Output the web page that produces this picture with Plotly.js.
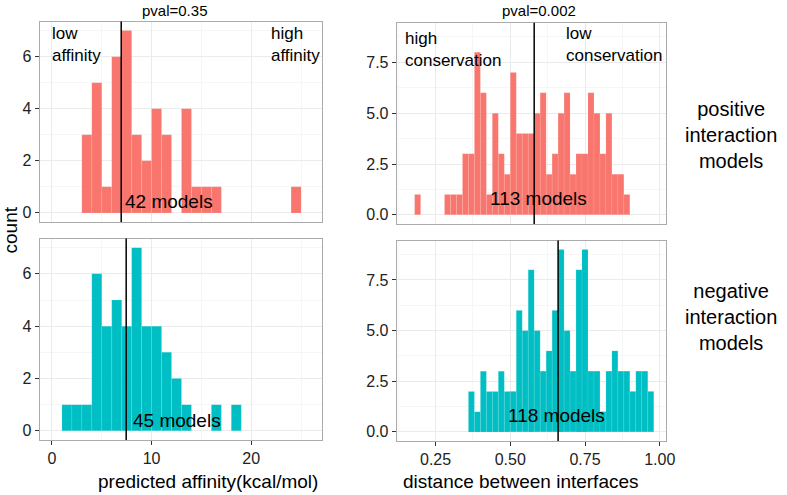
<!DOCTYPE html>
<html>
<head>
<meta charset="utf-8">
<script src="https://cdn.plot.ly/plotly-3.0.1.min.js"></script>
<style>
  html, body { margin: 0; padding: 0; background: #fff; }
  #chart { width: 787px; height: 495px; }
</style>
</head>
<body>
<div id="chart"></div>
<script>
// histogram bins (left edges) and counts
const posAffBins = [3, 4, 5, 6, 7, 8, 9, 10, 11, 12, 13, 14, 15, 16, 24];
const posAffCounts = [3, 5, 1, 6, 7, 3, 2, 4, 3, 0, 4, 1, 1, 1, 1];
const negAffBins = [1, 2, 3, 4, 5, 6, 7, 8, 9, 10, 11, 12, 13, 14, 15, 16, 17, 18];
const negAffCounts = [1, 1, 1, 6, 4, 5, 4, 7, 4, 4, 3, 2, 1, 0, 0, 1, 0, 1];

const posDistBins = [0.18, 0.28, 0.30, 0.32, 0.34, 0.36, 0.38, 0.40, 0.42, 0.44, 0.46,
  0.48, 0.50, 0.52, 0.54, 0.56, 0.58, 0.60, 0.62, 0.64, 0.66, 0.68, 0.70, 0.72, 0.74,
  0.76, 0.78, 0.80, 0.82, 0.84, 0.86, 0.88];
const posDistCounts = [1, 1, 1, 1, 3, 3, 8, 6, 1, 5, 3, 2, 7, 4, 4, 4, 5, 6, 2, 3, 5,
  6, 2, 3, 3, 6, 5, 3, 5, 2, 2, 1];
const negDistBins = [0.36, 0.38, 0.40, 0.42, 0.44, 0.46, 0.48, 0.50, 0.52, 0.54, 0.56,
  0.58, 0.60, 0.62, 0.64, 0.66, 0.68, 0.70, 0.72, 0.74, 0.76, 0.78, 0.80, 0.82, 0.84,
  0.86, 0.88, 0.90, 0.92, 0.94, 0.96];
const negDistCounts = [2, 1, 3, 2, 2, 3, 2, 2, 6, 5, 8, 5, 3, 4, 6, 9, 5, 3, 8, 9, 3,
  3, 1, 3, 4, 3, 3, 2, 3, 3, 2];

const affBinWidth = 1;
const distBinWidth = 0.02;

// means (vertical lines), p-values and model counts
const means = { posAff: 6.95, negAff: 7.45, posDist: 0.58, negDist: 0.66 };
const pvals = ['pval=0.35', 'pval=0.002'];
const modelLabels = ['42 models', '45 models', '113 models', '118 models'];

const FONT = 'Liberation Sans, Arial, sans-serif';
const RED = '#F8766D';
const CYAN = '#00BFC4';
const W = 787, H = 495;

function px(x) { return x / W; }
function py(y) { return 1 - y / H; }

function bars(bins, counts, width, color, xa, ya) {
  return {
    type: 'bar',
    x: bins,
    y: counts,
    width: width,
    offset: 0,
    xaxis: xa,
    yaxis: ya,
    marker: { color: color, line: { color: 'rgba(255,255,255,0.18)', width: 0.5 } },
    hoverinfo: 'x+y',
    showlegend: false
  };
}

const data = [
  bars(posAffBins, posAffCounts, affBinWidth, RED, 'x', 'y'),
  bars(posDistBins, posDistCounts, distBinWidth, RED, 'x2', 'y2'),
  bars(negAffBins, negAffCounts, affBinWidth, CYAN, 'x3', 'y3'),
  bars(negDistBins, negDistCounts, distBinWidth, CYAN, 'x4', 'y4')
];

const baseAxis = {
  showline: true,
  mirror: true,
  linecolor: '#ABABAB',
  linewidth: 1,
  gridcolor: '#EBEBEB',
  gridwidth: 1,
  zeroline: false,
  ticks: 'outside',
  ticklen: 4,
  tickcolor: '#333',
  tickfont: { family: FONT, size: 16, color: '#222' },
  fixedrange: true
};

function affX(domain, labels, anchor) {
  return Object.assign({}, baseAxis, {
    domain: domain, anchor: anchor,
    range: [-1.25, 27.1],
    dtick: 10, tick0: 0,
    showticklabels: labels,
    ticks: labels ? 'outside' : '',
    minor: { dtick: 5, tick0: 0, showgrid: true, gridcolor: '#F6F6F6', ticks: '' }
  });
}
function distX(domain, labels, anchor) {
  return Object.assign({}, baseAxis, {
    domain: domain, anchor: anchor,
    range: [0.12, 1.021],
    tickvals: [0.25, 0.5, 0.75, 1.0],
    tickformat: '.2f',
    showticklabels: labels,
    ticks: labels ? 'outside' : '',
    minor: { dtick: 0.125, tick0: 0, showgrid: true, gridcolor: '#F6F6F6', ticks: '' }
  });
}
function affY(domain, anchor) {
  return Object.assign({}, baseAxis, {
    domain: domain, anchor: anchor,
    range: [-0.35, 7.35],
    dtick: 2, tick0: 0,
    minor: { dtick: 1, tick0: 0, showgrid: true, gridcolor: '#F6F6F6', ticks: '' }
  });
}
function distY(domain, anchor) {
  return Object.assign({}, baseAxis, {
    domain: domain, anchor: anchor,
    range: [-0.45, 9.45],
    tickvals: [0, 2.5, 5, 7.5],
    tickformat: '.1f',
    minor: { dtick: 1.25, tick0: 0, showgrid: true, gridcolor: '#F6F6F6', ticks: '' }
  });
}

const leftX = [px(39.5), px(322)];
const rightX = [px(396.7), px(666)];

function vline(x, xa, ya) {
  return {
    type: 'line', xref: xa, yref: ya + ' domain',
    x0: x, x1: x, y0: 0, y1: 1,
    line: { color: '#000', width: 1.5 }
  };
}

function note(text, x, y, xa, ya, size, opts) {
  return Object.assign({
    text: text, x: x, y: y, xref: xa, yref: ya,
    showarrow: false, xanchor: 'left', yanchor: 'middle', align: 'left',
    font: { family: FONT, size: size, color: '#000' }
  }, opts || {});
}

const layout = {
  width: W,
  height: H,
  margin: { l: 0, r: 0, t: 0, b: 0 },
  paper_bgcolor: '#fff',
  plot_bgcolor: '#fff',
  bargap: 0,
  showlegend: false,
  xaxis: affX(leftX, false, 'y'),
  yaxis: affY([py(222), py(21.5)], 'x'),
  xaxis2: distX(rightX, false, 'y2'),
  yaxis2: distY([py(224), py(22.7)], 'x2'),
  xaxis3: affX(leftX, true, 'y3'),
  yaxis3: affY([py(440), py(238.5)], 'x3'),
  xaxis4: distX(rightX, true, 'y4'),
  yaxis4: distY([py(441), py(240.5)], 'x4'),
  shapes: [
    vline(means.posAff, 'x', 'y'),
    vline(means.posDist, 'x2', 'y2'),
    vline(means.negAff, 'x3', 'y3'),
    vline(means.negDist, 'x4', 'y4')
  ],
  annotations: [
    note('low<br>affinity', -0.2, 6.46, 'x', 'y', 17),
    note('high<br>affinity', 21.74, 6.46, 'x', 'y', 17),
    note('high<br>conservation', 0.142, 8.15, 'x2', 'y2', 17),
    note('low<br>conservation', 0.679, 8.39, 'x2', 'y2', 17),
    note(modelLabels[0], 11.75, 0.42, 'x', 'y', 19, { xanchor: 'center' }),
    note(modelLabels[1], 12.56, 0.39, 'x3', 'y3', 19, { xanchor: 'center' }),
    note(modelLabels[2], 0.596, 0.78, 'x2', 'y2', 19, { xanchor: 'center' }),
    note(modelLabels[3], 0.653, 0.81, 'x4', 'y4', 19, { xanchor: 'center' }),
    note(pvals[0], px(174.5), py(10), 'paper', 'paper', 15, { xanchor: 'center' }),
    note(pvals[1], px(539), py(10), 'paper', 'paper', 15, { xanchor: 'center' }),
    note('positive<br>interaction<br>models', px(730.7), py(135), 'paper', 'paper', 20,
      { xanchor: 'center', align: 'center' }),
    note('negative<br>interaction<br>models', px(730.7), py(316.7), 'paper', 'paper', 20,
      { xanchor: 'center', align: 'center' }),
    note('count', px(9.5), py(230), 'paper', 'paper', 19,
      { xanchor: 'center', textangle: -90 }),
    note('predicted affinity(kcal/mol)', px(208), py(481.7), 'paper', 'paper', 19,
      { xanchor: 'center' }),
    note('distance between interfaces', px(520.5), py(481.7), 'paper', 'paper', 19,
      { xanchor: 'center' })
  ]
};

Plotly.newPlot('chart', data, layout, { displayModeBar: false, staticPlot: true })
  .catch(err => console.error('Error plotting:', err));
</script>
</body>
</html>
